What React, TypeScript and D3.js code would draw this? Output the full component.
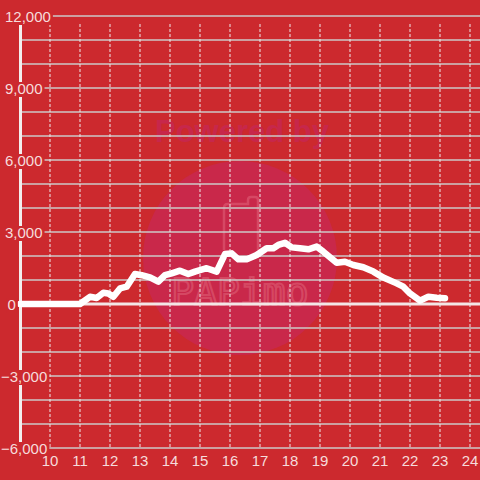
import React, { useEffect, useRef } from "react";
import * as d3 from "d3";

const hours = [9, 11, 11.333, 11.556, 11.778, 11.944, 12.111, 12.333, 12.556, 12.833, 13.056, 13.333, 13.611, 13.833, 14.056, 14.333, 14.611, 14.833, 15.222, 15.556, 15.833, 16.056, 16.278, 16.556, 16.889, 17.222, 17.444, 17.611, 17.833, 18.056, 18.333, 18.611, 18.889, 19.111, 19.556, 19.833, 20.111, 20.444, 20.778, 21.111, 21.556, 21.778, 22.0, 22.333, 22.611, 22.889, 23.167];
const values = [0, 0, 300, 250, 470, 440, 300, 650, 720, 1250, 1200, 1110, 930, 1200, 1280, 1390, 1250, 1350, 1490, 1350, 2080, 2110, 1860, 1860, 2040, 2320, 2320, 2460, 2550, 2360, 2320, 2280, 2390, 2180, 1720, 1760, 1625, 1530, 1350, 1100, 860, 720, 440, 140, 300, 260, 240];
const xTicks = [10, 11, 12, 13, 14, 15, 16, 17, 18, 19, 20, 21, 22, 23, 24];
const yLabelTicks = [12000, 9000, 6000, 3000, 0, -3000, -6000];
const yGridTicks = d3.range(-6000, 12001, 1000);

const W = 480, H = 480;
const BG = "#cc292e";
const LABEL = "#f6dcdc";

export default function App() {
  const ref = useRef<SVGSVGElement>(null);
  useEffect(() => {
    const svg = d3.select(ref.current);
    svg.selectAll("*").remove();
    const x = d3.scaleLinear().domain([9, 24.3333]).range([20, 480]);
    const y = d3.scaleLinear().domain([-6000, 12000]).range([448, 16]);

    svg.append("rect").attr("width", W).attr("height", H).attr("fill", BG);

    // watermark
    const wm = svg.append("g");
    wm.append("circle").attr("cx", 240).attr("cy", 258).attr("r", 97).attr("fill", "#c9284a");
    wm.append("text").attr("x", 242).attr("y", 142).attr("text-anchor", "middle")
      .attr("font-family", "Liberation Sans, Arial, sans-serif").attr("font-weight", "bold")
      .attr("font-size", 31).attr("fill", "#c7274b").text("Powered by");
    wm.append("path")
      .attr("d", "M224,250 L224,208 Q224,204 228,204 L248,204 L248,200 Q248,197 251,197 L255,197 Q258,197 258,200 L258,250")
      .attr("fill", "none").attr("stroke", "#d9506a").attr("stroke-width", 2.5).attr("opacity", 0.8);
    wm.append("text").attr("x", 240).attr("y", 305).attr("text-anchor", "middle")
      .attr("font-family", "DejaVu Sans Mono, monospace").attr("font-size", 38)
      .attr("fill", "none").attr("stroke", "#d9506a")
      .attr("stroke-width", 2.2).attr("opacity", 0.8).text("PAPimo");

    // horizontal grid
    svg.append("g").selectAll("line").data(yGridTicks).join("line")
      .attr("x1", 22).attr("x2", 480)
      .attr("y1", d => y(d)).attr("y2", d => y(d))
      .attr("stroke", "#cdc8c8").attr("stroke-width", 1.5);

    // zero line
    svg.append("line").attr("x1", 20).attr("x2", 480).attr("y1", y(0)).attr("y2", y(0))
      .attr("stroke", "#f3e6e6").attr("stroke-width", 3);

    // vertical dashed grid
    svg.append("g").selectAll("line").data(xTicks).join("line")
      .attr("x1", d => x(d)).attr("x2", d => x(d))
      .attr("y1", 24).attr("y2", 448)
      .attr("stroke", "#eeeaea").attr("stroke-width", 1).attr("stroke-dasharray", "3,2");

    // y axis bar
    svg.append("line").attr("x1", 20.5).attr("x2", 20.5).attr("y1", 16).attr("y2", 448)
      .attr("stroke", "#f3eeee").attr("stroke-width", 3);

    // data line
    const pts = hours.map((h, i) => [h, values[i]] as [number, number]);
    const line = d3.line<[number, number]>().x(d => x(d[0])).y(d => y(d[1]));
    svg.append("path").attr("d", line(pts)).attr("fill", "none")
      .attr("stroke", "#ffffff").attr("stroke-width", 6.5)
      .attr("stroke-linejoin", "round").attr("stroke-linecap", "round");

    // y labels with background
    const fmt = d3.format(",");
    const yl = svg.append("g");
    yLabelTicks.forEach(d => {
      const g = yl.append("g");
      const tx = d < 0 ? 1 : d === 0 ? 7.5 : 5;
      const t = g.append("text").attr("x", tx).attr("y", y(d) + 6)
        .attr("font-family", "Liberation Sans, Arial, sans-serif").attr("font-size", 15)
        .attr("fill", LABEL).text(fmt(d));
      const bb = (t.node() as SVGTextElement).getBBox();
      g.insert("rect", "text").attr("x", bb.x - 1).attr("y", y(d) - 6)
        .attr("width", bb.width + 3).attr("height", 15).attr("fill", BG);
    });

    // x labels
    svg.append("g").selectAll("text").data(xTicks).join("text")
      .attr("x", d => x(d)).attr("y", 466).attr("text-anchor", "middle")
      .attr("font-family", "Liberation Sans, Arial, sans-serif").attr("font-size", 15)
      .attr("fill", LABEL).text(d => String(d));
  }, []);
  return (
    <svg ref={ref} width={W} height={H}
      style={{ position: "fixed", left: 0, top: 0, display: "block" }} />
  );
}
